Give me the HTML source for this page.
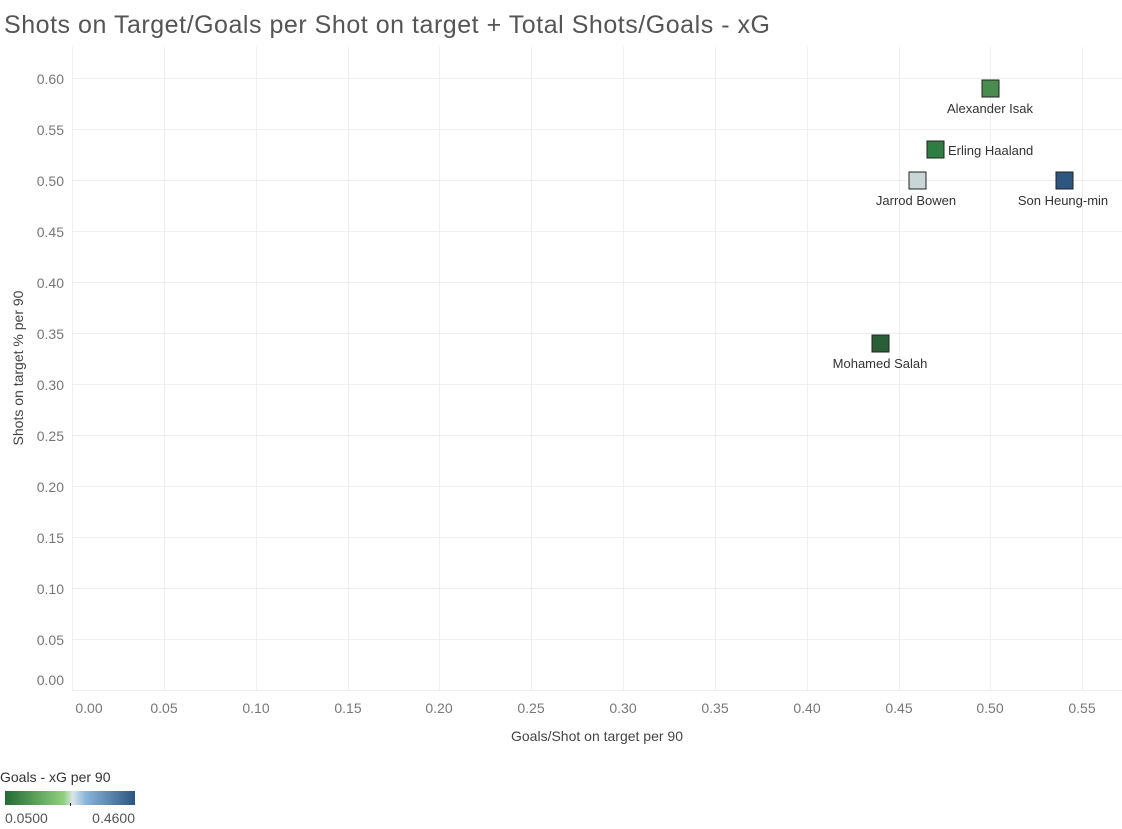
<!DOCTYPE html>
<html><head><meta charset="utf-8"><style>
html,body{margin:0;padding:0;background:#fff;width:1122px;height:829px;overflow:hidden}
svg{display:block;font-family:"Liberation Sans",sans-serif}
</style></head><body>
<svg width="1122" height="829" viewBox="0 0 1122 829" xmlns="http://www.w3.org/2000/svg">
<text x="4" y="33" font-size="25" fill="#555" textLength="766" lengthAdjust="spacing">Shots on Target/Goals per Shot on target + Total Shots/Goals - xG</text>
<g stroke="#efefef" stroke-width="1">
<line x1="72.5" y1="47" x2="72.5" y2="690"/>
<line x1="164.5" y1="47" x2="164.5" y2="690"/>
<line x1="256.5" y1="47" x2="256.5" y2="690"/>
<line x1="348.5" y1="47" x2="348.5" y2="690"/>
<line x1="439.5" y1="47" x2="439.5" y2="690"/>
<line x1="531.5" y1="47" x2="531.5" y2="690"/>
<line x1="623.5" y1="47" x2="623.5" y2="690"/>
<line x1="715.5" y1="47" x2="715.5" y2="690"/>
<line x1="807.5" y1="47" x2="807.5" y2="690"/>
<line x1="899.5" y1="47" x2="899.5" y2="690"/>
<line x1="990.5" y1="47" x2="990.5" y2="690"/>
<line x1="1082.5" y1="47" x2="1082.5" y2="690"/>
<line x1="72" y1="78.5" x2="1122" y2="78.5"/>
<line x1="72" y1="129.5" x2="1122" y2="129.5"/>
<line x1="72" y1="180.5" x2="1122" y2="180.5"/>
<line x1="72" y1="231.5" x2="1122" y2="231.5"/>
<line x1="72" y1="282.5" x2="1122" y2="282.5"/>
<line x1="72" y1="333.5" x2="1122" y2="333.5"/>
<line x1="72" y1="384.5" x2="1122" y2="384.5"/>
<line x1="72" y1="435.5" x2="1122" y2="435.5"/>
<line x1="72" y1="486.5" x2="1122" y2="486.5"/>
<line x1="72" y1="537.5" x2="1122" y2="537.5"/>
<line x1="72" y1="588.5" x2="1122" y2="588.5"/>
<line x1="72" y1="639.5" x2="1122" y2="639.5"/>
<line x1="72" y1="690.5" x2="1122" y2="690.5"/>
</g>
<g font-size="14" fill="#777" text-anchor="end">
<text x="64" y="84">0.60</text><text x="64" y="135">0.55</text><text x="64" y="186">0.50</text>
<text x="64" y="237">0.45</text><text x="64" y="288">0.40</text><text x="64" y="339">0.35</text>
<text x="64" y="390">0.30</text><text x="64" y="441">0.25</text><text x="64" y="492">0.20</text>
<text x="64" y="543">0.15</text><text x="64" y="594">0.10</text><text x="64" y="645">0.05</text>
<text x="64" y="685">0.00</text>
</g>
<g font-size="14" fill="#777" text-anchor="middle">
<text x="89" y="713">0.00</text><text x="164" y="713">0.05</text><text x="256" y="713">0.10</text>
<text x="348" y="713">0.15</text><text x="439" y="713">0.20</text><text x="531" y="713">0.25</text>
<text x="623" y="713">0.30</text><text x="715" y="713">0.35</text><text x="807" y="713">0.40</text>
<text x="899" y="713">0.45</text><text x="990" y="713">0.50</text><text x="1082" y="713">0.55</text>
</g>
<text x="597" y="741" font-size="14" fill="#444" text-anchor="middle">Goals/Shot on target per 90</text>
<text transform="translate(23,368) rotate(-90)" font-size="14" fill="#444" text-anchor="middle">Shots on target % per 90</text>
<g stroke="#222" stroke-width="1">
<rect x="982" y="80" width="17" height="17" fill="#4a8c4e"/>
<rect x="927" y="141" width="17" height="17" fill="#2f7d40"/>
<rect x="909" y="172" width="17" height="17" fill="#c8d6d6"/>
<rect x="1056" y="172" width="17" height="17" fill="#2e5680"/>
<rect x="872" y="335" width="17" height="17" fill="#2a5e37"/>
</g>
<g font-size="13" fill="#333">
<text x="990" y="113" text-anchor="middle">Alexander Isak</text>
<text x="948" y="155">Erling Haaland</text>
<text x="916" y="205" text-anchor="middle">Jarrod Bowen</text>
<text x="1063" y="205" text-anchor="middle">Son Heung-min</text>
<text x="880" y="368" text-anchor="middle">Mohamed Salah</text>
</g>
<text x="0" y="782" font-size="14" fill="#333">Goals - xG per 90</text>
<defs><linearGradient id="g" x1="0" x2="1">
<stop offset="0" stop-color="#236b33"/><stop offset="0.45" stop-color="#8fcf7e"/>
<stop offset="0.52" stop-color="#d9e6ea"/><stop offset="0.62" stop-color="#8ab6da"/>
<stop offset="1" stop-color="#2b5480"/></linearGradient></defs>
<rect x="5" y="791" width="130" height="14" fill="url(#g)"/>
<line x1="70.5" y1="803" x2="70.5" y2="806" stroke="#222"/>
<text x="5" y="823" font-size="14" fill="#555">0.0500</text>
<text x="135" y="823" font-size="14" fill="#555" text-anchor="end">0.4600</text>
</svg>
</body></html>
